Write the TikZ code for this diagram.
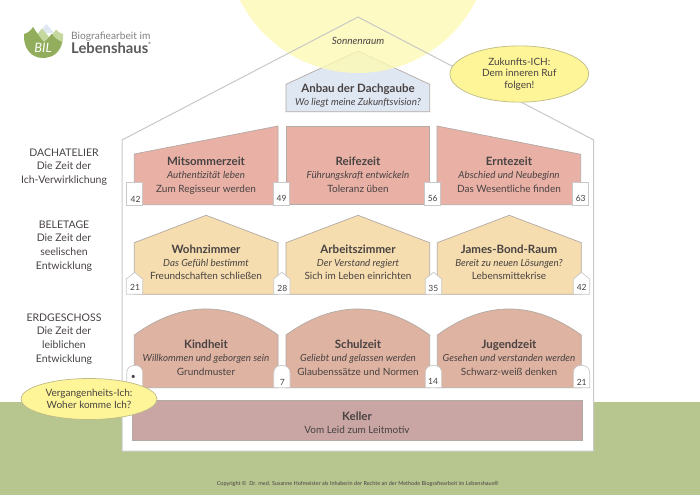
\documentclass[tikz,border=0pt]{standalone}
\usepackage{fontspec}
\setmainfont{Lato}
\definecolor{inktext}{RGB}{72,66,66}
\definecolor{wallgray}{RGB}{200,200,200}
\definecolor{roomline}{RGB}{178,170,165}
\definecolor{meadow}{RGB}{183,197,143}
\definecolor{sunyellow}{RGB}{253,249,180}
\definecolor{dormerblue}{RGB}{223,231,243}
\definecolor{atticred}{RGB}{233,177,166}
\definecolor{beleyellow}{RGB}{246,221,175}
\definecolor{groundrose}{RGB}{223,179,161}
\definecolor{cellarrose}{RGB}{201,166,164}
\definecolor{bubbleyellow}{RGB}{253,245,151}
\definecolor{bubbleline}{RGB}{190,186,135}
\definecolor{logogreen}{RGB}{146,174,92}
\definecolor{logolight}{RGB}{196,216,160}
\usetikzlibrary{positioning,shapes.geometric}
\begin{document}
\begin{tikzpicture}[
    x=1pt, y=-1pt,
    font=\fontsize{10}{12}\selectfont,
    text=inktext,
    room/.style={draw=roomline, line width=0.7pt},
    numbox/.style={draw=wallgray, fill=white, line width=0.7pt},
    rtitle/.style={font=\fontsize{11.5}{12}\selectfont\bfseries, inner sep=0pt, text height=8pt, text depth=2pt},
    rital/.style={font=\fontsize{9.8}{12}\selectfont\itshape, inner sep=0pt, text height=8pt, text depth=2pt, below=3pt of #1},
    rplain/.style={font=\fontsize{10}{12}\selectfont, inner sep=0pt, text height=8pt, text depth=2pt, below=3pt of #1},
    floorlabel/.style={font=\fontsize{10.5}{12}\selectfont, inner sep=0pt, align=center, text height=8pt, text depth=2pt},
    floorline/.style={font=\fontsize{10.5}{12}\selectfont, inner sep=0pt, text height=8pt, text depth=2pt, below=3.3pt of #1},
    numlabel/.style={font=\fontsize{8.5}{10}\selectfont, inner sep=0pt},
    bubble/.style={ellipse, draw=bubbleline, fill=bubbleyellow, line width=0.7pt, inner sep=0pt, align=center},
  ]
    \clip (0,0) rectangle (700,495);

    %── Ground and house ────────────────────────────────────────────────
    \fill[meadow] (0,401.7) rectangle (700,495);
    \fill[white] (122,451) -- (122,140) -- (358,17) -- (593.7,140) -- (593.7,451) -- cycle;

    %── Dormer, under the sun ───────────────────────────────────────────
    \draw[room, fill=dormerblue] (286,111.7) -- (286,84.3) -- (358,51) -- (429.7,84.3) -- (429.7,111.7) -- cycle;

    \fill[sunyellow, opacity=0.8] (358,-59) circle[radius=132];
    \draw[wallgray, line width=1pt] (122,451) -- (122,140) -- (358,17) -- (593.7,140) -- (593.7,451) -- cycle;

    \node[font=\fontsize{10}{12}\selectfont\itshape, inner sep=0pt] (sonne) at (358,40.7) {Sonnenraum};
    \node[rtitle] (dormer) at (358,89) {Anbau der Dachgaube};
    \node[rital=dormer] (dormersub) {Wo liegt meine Zukunftsvision?};

    %── DACHATELIER ─────────────────────────────────────────────────────
    \draw[room, fill=atticred] (134.3,204.7) -- (134.3,154) -- (278,126) -- (278,204.7) -- cycle;
    \draw[room, fill=atticred] (286,204.7) -- (286,126) -- (429.5,126) -- (429.5,204.7) -- cycle;
    \draw[room, fill=atticred] (437,204.7) -- (437,126) -- (580.7,154.3) -- (580.7,204.7) -- cycle;

    \node[rtitle] (t11) at (206,162.3) {Mitsommerzeit};
    \node[rital=t11] (i11) {Authentizität leben};
    \node[rplain=i11] (p11) {Zum Regisseur werden};
    \node[rtitle] (t12) at (358,162.3) {Reifezeit};
    \node[rital=t12] (i12) {Führungskraft entwickeln};
    \node[rplain=i12] (p12) {Toleranz üben};
    \node[rtitle] (t13) at (509,162.3) {Erntezeit};
    \node[rital=t13] (i13) {Abschied und Neubeginn};
    \node[rplain=i13] (p13) {Das Wesentliche finden};

    \draw[numbox] (126.7,182.7) rectangle (142.7,205);
    \draw[numbox] (273.7,182.7) rectangle (289.3,205);
    \draw[numbox] (424.7,182.7) rectangle (440.3,205);
    \draw[numbox] (572.3,182.7) rectangle (588.3,205);
    \node[numlabel] (n11) at (135.5,199) {42};
    \node[numlabel] (n12) at (281.5,198) {49};
    \node[numlabel] (n13) at (432.7,198) {56};
    \node[numlabel] (n14) at (580.7,198) {63};

    %── BELETAGE ────────────────────────────────────────────────────────
    \draw[room, fill=beleyellow] (134.3,294.3) -- (134.3,242.7) -- (206,215.3) -- (278,242.7) -- (278,294.3) -- cycle;
    \draw[room, fill=beleyellow] (286,294.3) -- (286,242.7) -- (358,215.3) -- (429.7,242.7) -- (429.7,294.3) -- cycle;
    \draw[room, fill=beleyellow] (437.3,294.3) -- (437.3,242.7) -- (509.3,215.3) -- (581.3,242.7) -- (581.3,294.3) -- cycle;

    \node[rtitle] (t21) at (206,250) {Wohnzimmer};
    \node[rital=t21] (i21) {Das Gefühl bestimmt};
    \node[rplain=i21] (p21) {Freundschaften schließen};
    \node[rtitle] (t22) at (358,250) {Arbeitszimmer};
    \node[rital=t22] (i22) {Der Verstand regiert};
    \node[rplain=i22] (p22) {Sich im Leben einrichten};
    \node[rtitle] (t23) at (509,250) {James-Bond-Raum};
    \node[rital=t23] (i23) {Bereit zu neuen Lösungen?};
    \node[rplain=i23] (p23) {Lebensmittekrise};

    \draw[numbox] (126.3,294.3) -- (126.3,279) -- (134.5,272.3) -- (142.7,279) -- (142.7,294.3) -- cycle;
    \draw[numbox] (273.7,294.3) -- (273.7,279) -- (281.8,272.3) -- (290,279) -- (290,294.3) -- cycle;
    \draw[numbox] (425.3,294.3) -- (425.3,279) -- (433.5,272.3) -- (441.7,279) -- (441.7,294.3) -- cycle;
    \draw[numbox] (573.3,294.3) -- (573.3,279) -- (581.5,272.3) -- (589.7,279) -- (589.7,294.3) -- cycle;
    \node[numlabel] (n21) at (135,287.3) {21};
    \node[numlabel] (n22) at (282.3,288) {28};
    \node[numlabel] (n23) at (433.3,288) {35};
    \node[numlabel] (n24) at (581.7,287.5) {42};

    %── ERDGESCHOSS ─────────────────────────────────────────────────────
    \draw[room, fill=groundrose] (134.3,387.7) -- (134.3,335) .. controls (182,300.3) and (230,300.3) .. (278,335) -- (278,387.7) -- cycle;
    \draw[room, fill=groundrose] (286,387.7) -- (286,335) .. controls (334,300.3) and (382,300.3) .. (429.7,335) -- (429.7,387.7) -- cycle;
    \draw[room, fill=groundrose] (437.3,387.7) -- (437.3,335) .. controls (485,300.3) and (533,300.3) .. (581.3,335) -- (581.3,387.7) -- cycle;

    \node[rtitle] (t31) at (206,345.3) {Kindheit};
    \node[rital=t31] (i31) {Willkommen und geborgen sein};
    \node[rplain=i31] (p31) {Grundmuster};
    \node[rtitle] (t32) at (358,345.3) {Schulzeit};
    \node[rital=t32] (i32) {Geliebt und gelassen werden};
    \node[rplain=i32] (p32) {Glaubenssätze und Normen};
    \node[rtitle] (t33) at (509,345.3) {Jugendzeit};
    \node[rital=t33] (i33) {Gesehen und verstanden werden};
    \node[rplain=i33] (p33) {Schwarz-weiß denken};

    \draw[numbox] (126.7,387.7) -- (126.7,373) .. controls (126.7,368) and (130,365.3) .. (134.7,365.3) .. controls (139.4,365.3) and (142.7,368) .. (142.7,373) -- (142.7,387.7) -- cycle;
    \draw[numbox] (273.7,387.7) -- (273.7,373) .. controls (273.7,368) and (277,365.3) .. (281.8,365.3) .. controls (286.6,365.3) and (290,368) .. (290,373) -- (290,387.7) -- cycle;
    \draw[numbox] (425.3,387.7) -- (425.3,373) .. controls (425.3,368) and (428.6,365.3) .. (433.5,365.3) .. controls (438.4,365.3) and (441.7,368) .. (441.7,373) -- (441.7,387.7) -- cycle;
    \draw[numbox] (573.3,387.7) -- (573.3,373) .. controls (573.3,368) and (576.6,365.3) .. (581.5,365.3) .. controls (586.4,365.3) and (589.7,368) .. (589.7,373) -- (589.7,387.7) -- cycle;
    \node[numlabel] (n31) at (133.3,377.7) {•};
    \node[numlabel] (n32) at (282.3,382) {7};
    \node[numlabel] (n33) at (433,381.5) {14};
    \node[numlabel] (n34) at (581.7,382) {21};

    %── Keller ──────────────────────────────────────────────────────────
    \draw[room, fill=cellarrose] (132.7,400) rectangle (582,440);
    \node[rtitle] (keller) at (357,417) {Keller};
    \node[rplain=keller] (kellersub) {Vom Leid zum Leitmotiv};

    %── Floor names on the left ─────────────────────────────────────────
    \node[floorlabel] (fa) at (64,153) {DACHATELIER};
    \node[floorline=fa] (fa1) {Die Zeit der};
    \node[floorline=fa1] (fa2) {Ich-Verwirklichung};

    \node[floorlabel] (fb) at (64,225) {BELETAGE};
    \node[floorline=fb] (fb1) {Die Zeit der};
    \node[floorline=fb1] (fb2) {seelischen};
    \node[floorline=fb2] (fb3) {Entwicklung};

    \node[floorlabel] (fc) at (64,318) {ERDGESCHOSS};
    \node[floorline=fc] (fc1) {Die Zeit der};
    \node[floorline=fc1] (fc2) {leiblichen};
    \node[floorline=fc2] (fc3) {Entwicklung};

    %── Bubbles ─────────────────────────────────────────────────────────
    \node[bubble, minimum width=138.7pt, minimum height=56.3pt] (future) at (519.3,74) {Zukunfts-ICH:\\[-0.5pt]Dem inneren Ruf\\[-0.5pt]folgen!};
    \node[bubble, minimum width=136pt, minimum height=41pt] (past) at (89,399) {Vergangenheits-Ich:\\[-0.5pt]Woher komme Ich?};

    %── Logo ────────────────────────────────────────────────────────────
    \fill[dormerblue] (39,33) -- (46.5,24) -- (54,33) -- cycle;
    \fill[logolight] (34,38) -- (42,28.5) -- (50,38) -- (56,29.5) .. controls (58,32) and (61,34) .. (63,34) .. controls (64,46) and (58,55) .. (50,57) -- (38,50) -- cycle;
    \fill[logogreen] (24,34) .. controls (28,33) and (31,30) .. (33,27) .. controls (37,33) and (41,39) .. (44,42) .. controls (48,39) and (50,36) .. (52,33.5) .. controls (54,38) and (58,40) .. (62,42) .. controls (60,52) and (52,58) .. (43,58) .. controls (31,58) and (23,48) .. (24,34) -- cycle;
    \node[font=\fontsize{13}{14}\selectfont\itshape, text=white, inner sep=0pt] (bil) at (43,47.5) {BIL};
    \node[font=\fontsize{10.2}{11}\selectfont, text=black!50, anchor=west, inner sep=0pt] (logotop) at (71,37) {Biografiearbeit im};
    \node[font=\fontsize{14.8}{15}\selectfont\bfseries, text=black!65, anchor=west, inner sep=0pt] (logobot) at (71,48) {Lebenshaus\raisebox{1.2ex}{\fontsize{3}{3}\selectfont ®}};

    %── Copyright ───────────────────────────────────────────────────────
    \node[font=\fontsize{5.5}{6}\selectfont, inner sep=0pt] (copy) at (357.7,483.7) {Copyright ©\ \ Dr. med. Susanne Hofmeister als Inhaberin der Rechte an der Methode Biografiearbeit im Lebenshaus®};

  \end{tikzpicture}
\end{document}
